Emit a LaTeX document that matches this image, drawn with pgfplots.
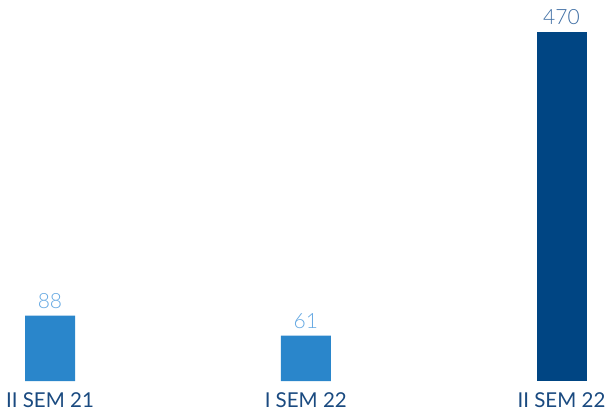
\documentclass[border=0pt]{standalone}
\usepackage{pgfplots}
\pgfplotsset{compat=1.18}
\usepackage{fontspec}
\setmainfont{Lato Light}
\newfontfamily\latoreg{Lato}
\definecolor{lightbar}{HTML}{2A86CB}
\definecolor{darkbar}{HTML}{004583}
\definecolor{lightlab}{HTML}{66A9E2}
\definecolor{darklab}{HTML}{3D6DA3}
\definecolor{catlab}{HTML}{1A4A80}
\begin{document}
\begin{tikzpicture}
\begin{axis}[
  scale only axis,
  width=609bp, height=381bp,
  xmin=-0.1955, xmax=2.1857,
  ymin=0, ymax=513.1,
  axis line style={draw=none},
  tick style={draw=none},
  ytick=\empty,
  xtick={0,1,2},
  xticklabels={II SEM 21, I SEM 22, II SEM 22},
  xticklabel style={anchor=base, inner sep=0pt, yshift=-22bp, text=catlab, font=\latoreg\fontsize{20.5bp}{24bp}\selectfont},
  ybar, bar width=50bp, bar shift=0pt,
  clip=false,
  nodes near coords,
  /pgf/number format/assume math mode=true,
  nodes near coords style={anchor=base, inner sep=0pt, yshift=7bp, font=\fontsize{21bp}{24bp}\selectfont},
]
\addplot[fill=lightbar, draw=none, nodes near coords style={text=lightlab}] coordinates {(0,88) (1,61)};
\addplot[fill=darkbar, draw=none, nodes near coords style={text=darklab}] coordinates {(2,470)};
\end{axis}
\pgfresetboundingbox
\path[use as bounding box] (0,-33bp) rectangle (609bp,381bp);
\end{tikzpicture}
\end{document}
